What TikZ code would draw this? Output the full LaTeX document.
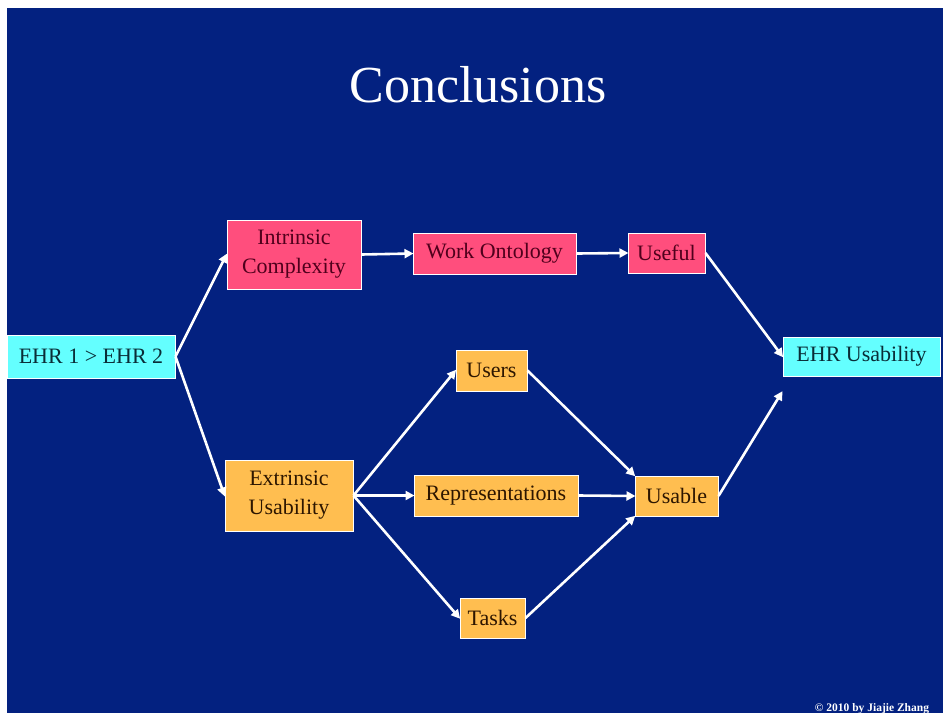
\documentclass[tikz,border=0pt]{standalone}
\usepackage{fontspec}
\setmainfont{Liberation Serif}
\usetikzlibrary{arrows.meta}
\definecolor{bgblue}{RGB}{3,33,128}
\definecolor{pinkfill}{RGB}{255,78,125}
\definecolor{pinktext}{RGB}{80,0,28}
\definecolor{orangefill}{RGB}{255,190,80}
\definecolor{orangetext}{RGB}{45,22,0}
\definecolor{cyanfill}{RGB}{100,255,255}
\definecolor{cyantext}{RGB}{10,45,55}
\tikzset{
  box/.style={draw=white, line width=1pt, inner sep=0pt, align=center,
    font=\fontsize{22}{29}\selectfont},
  pinkbox/.style={box, fill=pinkfill, text=pinktext},
  orangebox/.style={box, fill=orangefill, text=orangetext},
  cyanbox/.style={box, fill=cyanfill, text=cyantext},
  conn/.style={draw=white, line width=2.6pt, -{Triangle[length=9pt,width=9pt]}, shorten >=-1pt}
}
\begin{document}
\begin{tikzpicture}[x=1pt,y=-1pt]
\useasboundingbox (0,0) rectangle (943,713);
\fill[white] (0,0) rectangle (943,713);
\fill[bgblue] (7,8) rectangle (943,713);

\node[text=white, font=\fontsize{52}{60}\selectfont, anchor=base] (title) at (478,102) {Conclusions};

\node[cyanbox, minimum width=168pt, minimum height=43pt] (ehr12) at (91,356.5) {EHR 1 > EHR 2};
\node[pinkbox, minimum width=134pt, minimum height=69pt] (intr) at (294,254.5) {Intrinsic\\Complexity};
\node[pinkbox, minimum width=163pt, minimum height=41pt] (work) at (494.5,253.5) {Work Ontology};
\node[pinkbox, minimum width=77pt, minimum height=40pt] (useful) at (666.5,253) {Useful};
\node[cyanbox, minimum width=157pt, minimum height=39pt] (ehru) at (861.5,356.5) {EHR Usability};
\node[orangebox, minimum width=71pt, minimum height=41pt] (users) at (491.5,370.5) {Users};
\node[orangebox, minimum width=164pt, minimum height=41pt] (repr) at (496,495.5) {Representations};
\node[orangebox, minimum width=83pt, minimum height=40pt] (usable) at (676.5,496) {Usable};
\node[orangebox, minimum width=128pt, minimum height=71pt] (extr) at (289,495.5) {Extrinsic\\Usability};
\node[orangebox, minimum width=65pt, minimum height=40pt] (tasks) at (492.5,618) {Tasks};

\coordinate (ehrin) at (782,392);

\draw[conn] (ehr12.east) -- (intr.west);
\draw[conn] (ehr12.east) -- (extr.west);
\draw[conn] (intr.east) -- (work.west);
\draw[conn] (work.east) -- (useful.west);
\draw[conn] (useful.east) -- (ehru.west);
\draw[conn] (extr.east) -- (users.west);
\draw[conn] (extr.east) -- (repr.west);
\draw[conn] (extr.east) -- (tasks.west);
\draw[conn] (users.east) -- (usable.north west);
\draw[conn] (repr.east) -- (usable.west);
\draw[conn] (tasks.east) -- (usable.south west);
\draw[conn] (usable.east) -- (ehrin);

\node[text=white, font=\fontsize{11.5}{13}\selectfont\bfseries, anchor=base] (copy) at (872,711) {© 2010 by Jiajie Zhang};
\end{tikzpicture}
\end{document}
